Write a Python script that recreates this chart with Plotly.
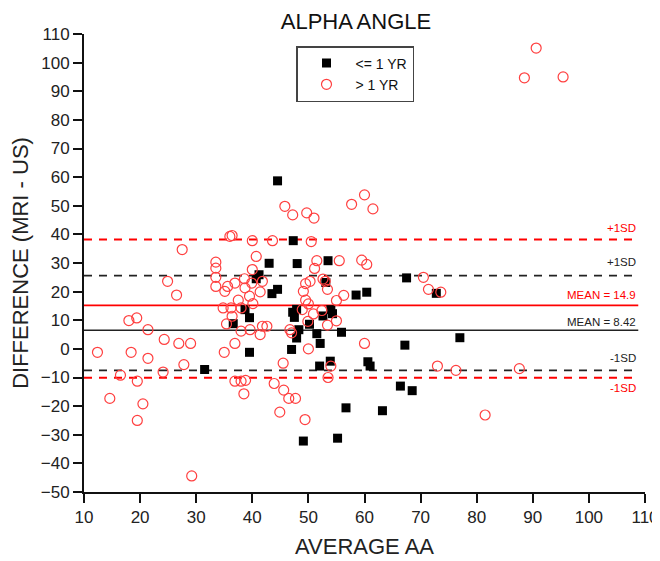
import plotly.graph_objects as go

# <= 1 YR (black squares)
le_x = [31.5, 36.6, 38.7, 39.5, 39.5, 41.2, 40.7, 43.0, 43.5, 44.5, 44.5, 47.3, 48.0, 47.2, 47.5,
        47.9, 48.3, 47.9, 47.0, 50.2, 51.5, 52.1, 52.0, 52.6, 53.5, 53.1, 53.9, 54.0, 54.3, 55.9,
        56.7, 49.1, 55.2, 58.5, 60.4, 67.5, 72.8, 77.0, 67.2, 60.6, 61.0, 66.4, 68.5, 63.2]
le_y = [-7.2, 8.8, 13.7, 10.9, -1.2, 25.9, 24.5, 29.9, 19.3, 20.8, 58.7, 37.8, 29.8, 12.8, 11.0,
        13.8, 6.7, 3.8, -0.2, 8.6, 5.3, 1.9, -6.0, 11.5, 30.8, 23.2, -4.3, 13.7, 12.3, 5.8,
        -20.6, -32.2, -31.2, 18.8, 19.8, 24.8, 19.4, 3.9, 1.3, -4.5, -6.0, -13.0, -14.6, -21.6]

# > 1 YR (red open circles)
gt_x = [12.4, 14.6, 16.5, 18.0, 19.4, 18.4, 19.5, 19.5, 20.5, 21.4, 21.4, 24.3, 24.1, 24.9, 26.5,
        26.9, 27.8, 29.0, 29.2, 27.5,
        33.5, 33.5, 33.5, 33.5, 35.1, 35.6, 34.8, 35.4, 35.0, 36.0, 36.4, 36.9, 36.2, 36.4, 36.9,
        36.9, 37.5, 38.0, 38.0, 38.0, 38.8, 38.5, 38.6, 38.7, 39.5, 39.9, 40.1, 39.6, 40.0, 40.7,
        40.0, 41.4, 41.8, 41.4, 41.8, 42.6, 43.6, 43.9, 45.5, 45.6, 44.9, 46.5, 47.7, 49.4, 45.8,
        47.2, 49.7, 51.0, 50.5,
        46.7, 47.0, 48.9, 49.1, 49.5, 49.5, 49.9, 50.0, 50.0, 50.9, 52.4, 53.0, 53.4, 53.5, 54.0,
        55.0, 55.0, 56.3, 53.4, 51.5, 51.1, 52.6, 50.3, 55.5, 59.5, 60.4, 57.7, 60.0, 61.5, 60.0,
        70.5, 71.4, 73.6, 73.0, 76.3, 87.6, 81.5, 88.5, 90.6, 95.4]
gt_y = [-1.2, -17.3, -9.2, 9.9, 10.8, -1.2, -11.3, -25.0, -19.2, 6.7, -3.3, 3.3, -8.1, 23.6, 18.8,
        1.9, -5.5, 1.9, -44.4, 34.7,
        30.3, 28.2, 25.0, 21.8, 20.1, 21.8, 14.3, 8.7, -1.2, 39.3, 39.6, 23.0, 14.3, 11.4, 1.9,
        -11.3, 17.0, 14.3, 6.2, -11.3, -11.0, -15.7, 24.5, 21.3, 18.4, 23.0, 15.8, 6.7, 37.8, 32.3,
        27.7, 19.9, 23.6, 5.0, 7.9, 7.9, 37.8, -12.1, -5.0, -14.4, -22.1, -17.3, -17.3, -24.7, 49.8,
        46.8, 47.5, 45.7, 37.5,
        6.7, 5.6, 13.7, 20.1, 22.8, 17.0, 9.6, 0.0, 15.7, 12.2, 13.4, 23.6, 20.8, -10.0, -6.0,
        9.8, 16.9, 18.7, 8.3, 30.8, 28.1, 24.4, 23.6, 30.8, 31.0, 29.5, 50.5, 53.8, 48.9, 1.9,
        25.0, 20.8, 19.8, -6.0, -7.5, -6.9, -23.1, 94.7, 105.1, 95.0]

x_ticks = list(range(10, 111, 10))
y_ticks = list(range(-50, 111, 10))

# reference levels (as drawn) and their labels
red_levels = [38.2, 15.2, -10.1]
red_labels = ["+1SD", "MEAN = 14.9", "-1SD"]
black_levels = [25.6, 6.5, -7.5]
black_labels = ["+1SD", "MEAN = 8.42", "-1SD"]

FONT = "Liberation Sans, Arial, sans-serif"
RED = "#ff0000"
BLK = "#222222"

# page body adds an 8px offset; figure is sized so the plot area lands where the reference's does
W, H = 652, 553
ML, MR, MT, MB = 76, 15, 26, 69

fig = go.Figure()
fig.add_trace(go.Scatter(
    x=le_x, y=le_y, mode="markers", name="<= 1 YR",
    marker=dict(symbol="square", size=9, color="black", line=dict(width=0)),
))
fig.add_trace(go.Scatter(
    x=gt_x, y=gt_y, mode="markers", name="> 1 YR",
    marker=dict(symbol="circle-open", size=10, color="#ff4040", line=dict(width=1.2)),
))

shapes = []
annotations = []
line_styles = {0: "8px,7px", 1: "solid", 2: "8px,7px"}
label_offsets_red = [4.2, 3.5, -3.6]
label_offsets_blk = [4.7, 2.9, 4.3]
for i, (lvl, lab) in enumerate(zip(red_levels, red_labels)):
    shapes.append(dict(type="line", xref="x", yref="y", x0=10, x1=108.8, y0=lvl, y1=lvl,
                       line=dict(color=RED, width=2 if i != 1 else 1.6, dash=line_styles[i]),
                       layer="below"))
    annotations.append(dict(x=108.8, y=lvl + label_offsets_red[i], xref="x", yref="y",
                            text=lab, showarrow=False, xanchor="right", yanchor="middle",
                            font=dict(family=FONT, size=11.5, color=RED)))
for i, (lvl, lab) in enumerate(zip(black_levels, black_labels)):
    shapes.append(dict(type="line", xref="x", yref="y", x0=10, x1=108.8, y0=lvl, y1=lvl,
                       line=dict(color=BLK, width=1.8 if i != 1 else 1.6, dash=line_styles[i]),
                       layer="below"))
    annotations.append(dict(x=108.8, y=lvl + label_offsets_blk[i], xref="x", yref="y",
                            text=lab, showarrow=False, xanchor="right", yanchor="middle",
                            font=dict(family=FONT, size=11.5, color=BLK)))

PW = W - ML - MR
PH = H - MT - MB
fig.update_layout(
    width=W, height=H,
    margin=dict(l=ML, r=MR, t=MT, b=MB, autoexpand=False),
    paper_bgcolor="white", plot_bgcolor="white",
    font=dict(family=FONT, color="#111111"),
    title=dict(text="ALPHA ANGLE", x=(356 - 84) / PW, xref="paper", xanchor="center",
               y=1 - 13 / H, yanchor="middle", font=dict(family=FONT, size=22, color="#111")),
    showlegend=True,
    legend=dict(x=(296 - 84) / PW, y=(492 - 46) / PH, xanchor="left", yanchor="top",
                bgcolor="white", bordercolor="#444", borderwidth=1.5,
                font=dict(family=FONT, size=14, color="#111"),
                tracegroupgap=0, itemwidth=48, entrywidth=134, entrywidthmode="pixels"),
    shapes=shapes,
    annotations=annotations,
)
fig.update_xaxes(range=[10, 110], tickvals=x_ticks, ticks="outside", ticklen=9, tickwidth=2,
                 tickcolor="#111", showline=True, linecolor="#111", linewidth=2,
                 showgrid=False, zeroline=False, mirror=False, automargin=False,
                 tickfont=dict(family=FONT, size=17, color="#222"),
                 title=dict(text="AVERAGE AA", font=dict(family=FONT, size=22, color="#222"), standoff=12))
fig.update_yaxes(range=[-50, 110], tickvals=y_ticks, ticks="outside", ticklen=9, tickwidth=2,
                 tickcolor="#111", showline=True, linecolor="#111", linewidth=2,
                 showgrid=False, zeroline=False, mirror=False, automargin=False,
                 tickfont=dict(family=FONT, size=17, color="#222"),
                 title=dict(text="DIFFERENCE (MRI - US)", font=dict(family=FONT, size=22, color="#222"), standoff=12))

fig.write_html("out.html")
